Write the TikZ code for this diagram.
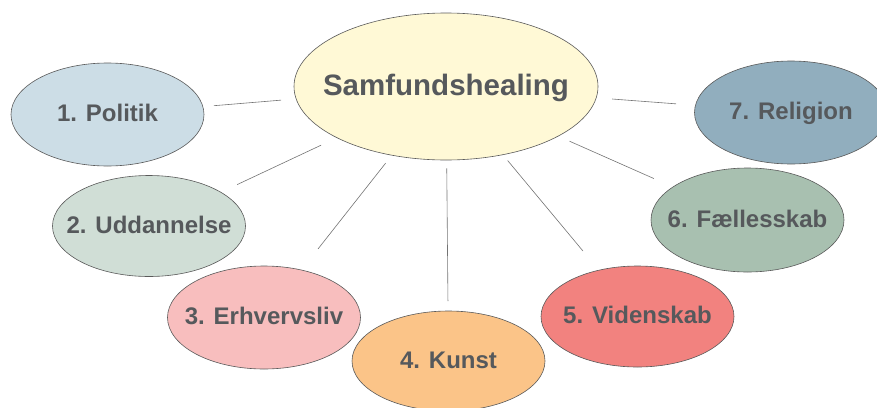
\documentclass[tikz,border=0pt]{standalone}
\usepackage{fontspec}
\setmainfont{Liberation Sans}
\usetikzlibrary{shapes.geometric,calc}
\definecolor{txt}{HTML}{56595C}
\definecolor{edge}{HTML}{5A5A5A}
\definecolor{cmain}{HTML}{FFF9D6}
\definecolor{c1}{HTML}{CCDDE6}
\definecolor{c2}{HTML}{D0DED6}
\definecolor{c3}{HTML}{F8BEBE}
\definecolor{c4}{HTML}{FBC488}
\definecolor{c5}{HTML}{F2827F}
\definecolor{c6}{HTML}{A8C0B0}
\definecolor{c7}{HTML}{91AEBE}
\tikzset{
  bubble/.style={ellipse, draw=edge, line width=0.6pt, inner sep=0pt,
    minimum width=193pt, minimum height=103pt},
  lbl/.style={text=txt, font=\fontsize{24}{24}\selectfont\bfseries,
    text height=17.3pt, text depth=0pt, inner sep=0pt, yshift=1.5pt},
  biglbl/.style={text=txt, font=\fontsize{29.5}{29.5}\selectfont\bfseries,
    text height=21.2pt, text depth=0pt, inner sep=0pt, yshift=1.5pt},
  link/.style={draw=edge!85, line width=0.6pt}
}
\begin{document}
\begin{tikzpicture}[x=1pt,y=-1pt]
\useasboundingbox (0,0) rectangle (877,407);
\node[bubble, fill=cmain, minimum width=304pt, minimum height=147pt,
  label={[biglbl]center:Samfundshealing}] (c) at (446,86.5) {};
\node[bubble, fill=c1, label={[lbl]center:1. Politik}] (p) at (107.5,114.5) {};
\node[bubble, fill=c2, minimum height=101pt, label={[lbl]center:2. Uddannelse}] (u) at (149,226) {};
\node[bubble, fill=c3, label={[lbl]center:3. Erhvervsliv}] (e) at (264,317.5) {};
\node[bubble, fill=c4, minimum height=100pt, label={[lbl]center:4. Kunst}] (k) at (448.5,361) {};
\node[bubble, fill=c5, minimum height=101pt, label={[lbl]center:5. Videnskab}] (v) at (637.5,316.5) {};
\node[bubble, fill=c6, minimum height=104pt, label={[lbl]center:6. Fællesskab}] (f) at (747.5,220) {};
\node[bubble, fill=c7, label={[lbl]center:7. Religion}] (r) at (791,112.5) {};
\draw[link] ($(c)!165.5pt!(p)$) -- ($(p)!106.8pt!(c)$);
\draw[link] ($(c)!138pt!(u)$) -- ($(u)!97.5pt!(c)$);
\draw[link] ($(c)!97.6pt!(e)$) -- ($(e)!87.4pt!(c)$);
\draw[link] ($(c)!82pt!(k)$) -- ($(k)!60pt!(c)$);
\draw[link] ($(c)!96.4pt!(v)$) -- ($(v)!85.2pt!(c)$);
\draw[link] ($(c)!135.1pt!(f)$) -- ($(f)!102.4pt!(c)$);
\draw[link] ($(c)!166.5pt!(r)$) -- ($(r)!115.2pt!(c)$);
\end{tikzpicture}
\end{document}
